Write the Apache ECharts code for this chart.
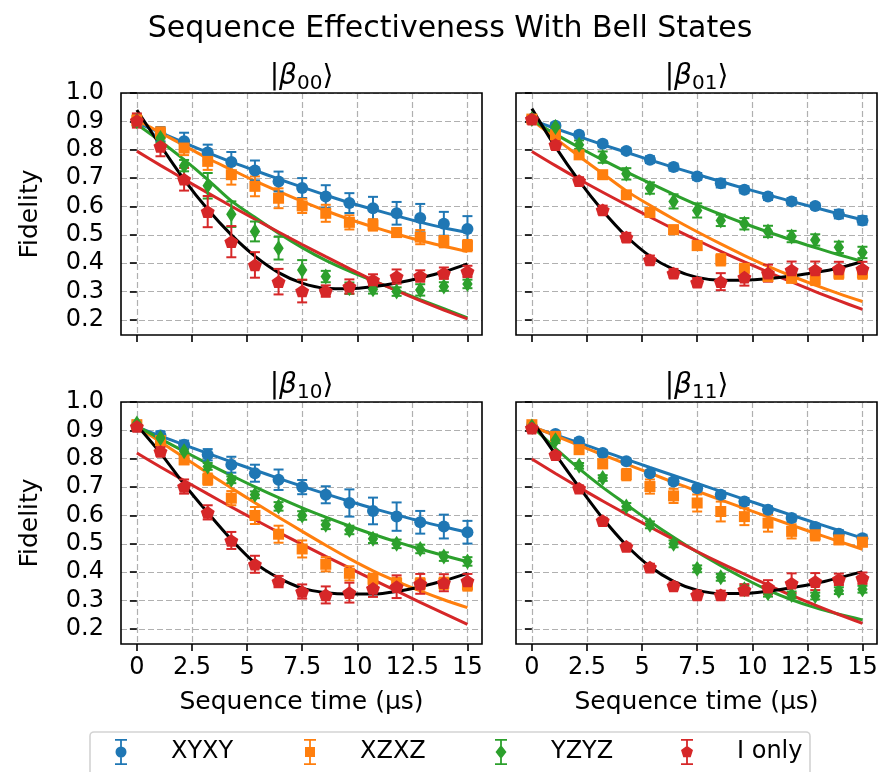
<!DOCTYPE html>
<html>
<head>
<meta charset="utf-8">
<script src="https://cdn.jsdelivr.net/npm/echarts@6/dist/echarts.min.js"></script>
<style>
  html, body { margin: 0; padding: 0; background: #fff; }
  #chart { width: 881px; height: 772px; }
</style>
</head>
<body>
<div id="chart"></div>
<script>
// sequence times (us) and axis ticks
const times = [0, 1.071, 2.143, 3.214, 4.286, 5.357, 6.429, 7.5, 8.571, 9.643, 10.714, 11.786, 12.857, 13.929, 15];
const xTicks = [0, 2.5, 5, 7.5, 10, 12.5, 15];
const yTicks = [0.2, 0.3, 0.4, 0.5, 0.6, 0.7, 0.8, 0.9, 1.0];
const seqNames = ['XYXY', 'XZXZ', 'YZYZ', 'I only'];
const stateLabels = ['00', '01', '10', '11'];

// |β00>
const xyxy00 = [0.903, 0.855, 0.83, 0.79, 0.757, 0.727, 0.688, 0.665, 0.635, 0.612, 0.594, 0.576, 0.559, 0.539, 0.521];
const xyxy00Err = [0.02, 0.025, 0.03, 0.028, 0.035, 0.035, 0.035, 0.035, 0.04, 0.035, 0.04, 0.04, 0.05, 0.042, 0.045];
const xyxy00Fit = [0.895, 0.86, 0.825, 0.79, 0.757, 0.727, 0.697, 0.668, 0.64, 0.613, 0.59, 0.567, 0.545, 0.525, 0.508];
const xzxz00 = [0.903, 0.859, 0.806, 0.759, 0.712, 0.671, 0.629, 0.602, 0.576, 0.544, 0.535, 0.508, 0.492, 0.476, 0.462];
const xzxz00Err = [0.02, 0.02, 0.025, 0.03, 0.035, 0.035, 0.035, 0.025, 0.03, 0.025, 0.02, 0.015, 0.025, 0.02, 0.02];
const xzxz00Fit = [0.905, 0.86, 0.815, 0.77, 0.73, 0.69, 0.653, 0.618, 0.585, 0.555, 0.528, 0.503, 0.48, 0.46, 0.441];
const yzyz00 = [0.9, 0.841, 0.744, 0.673, 0.573, 0.512, 0.453, 0.376, 0.353, 0.312, 0.308, 0.3, 0.306, 0.318, 0.327];
const yzyz00Err = [0.015, 0.015, 0.02, 0.045, 0.045, 0.035, 0.04, 0.035, 0.02, 0.02, 0.015, 0.015, 0.02, 0.015, 0.015];
const yzyz00Fit = [0.89, 0.83, 0.765, 0.695, 0.62, 0.562, 0.506, 0.455, 0.41, 0.372, 0.338, 0.305, 0.272, 0.24, 0.207];
const ionly00 = [0.903, 0.812, 0.696, 0.582, 0.476, 0.394, 0.335, 0.302, 0.302, 0.318, 0.341, 0.353, 0.355, 0.365, 0.371];
const ionly00Err = [0.025, 0.035, 0.04, 0.055, 0.055, 0.045, 0.045, 0.04, 0.02, 0.025, 0.02, 0.025, 0.02, 0.02, 0.02];
const ionly00Fit = [0.795, 0.745, 0.696, 0.648, 0.601, 0.555, 0.51, 0.466, 0.423, 0.381, 0.34, 0.303, 0.268, 0.235, 0.204];
const ionly00Curve = [0.94, 0.815, 0.695, 0.59, 0.5, 0.425, 0.367, 0.33, 0.312, 0.31, 0.317, 0.33, 0.348, 0.37, 0.398];

// |β01>
const xyxy01 = [0.908, 0.885, 0.853, 0.821, 0.796, 0.765, 0.739, 0.706, 0.682, 0.659, 0.635, 0.618, 0.602, 0.573, 0.551];
const xyxy01Err = [0.01, 0.01, 0.01, 0.01, 0.01, 0.012, 0.012, 0.012, 0.015, 0.012, 0.012, 0.012, 0.01, 0.015, 0.015];
const xyxy01Fit = [0.905, 0.875, 0.846, 0.818, 0.791, 0.764, 0.738, 0.713, 0.688, 0.664, 0.641, 0.618, 0.596, 0.574, 0.553];
const xzxz01 = [0.908, 0.853, 0.782, 0.712, 0.641, 0.579, 0.518, 0.462, 0.412, 0.382, 0.353, 0.347, 0.343, 0.365, 0.365];
const xzxz01Err = [0.01, 0.01, 0.012, 0.012, 0.012, 0.012, 0.015, 0.015, 0.02, 0.015, 0.015, 0.015, 0.02, 0.02, 0.02];
const xzxz01Fit = [0.905, 0.84, 0.777, 0.716, 0.655, 0.604, 0.556, 0.511, 0.468, 0.427, 0.389, 0.355, 0.323, 0.293, 0.265];
const yzyz01 = [0.908, 0.88, 0.818, 0.774, 0.715, 0.665, 0.618, 0.586, 0.551, 0.539, 0.512, 0.494, 0.482, 0.456, 0.438];
const yzyz01Err = [0.01, 0.012, 0.015, 0.02, 0.02, 0.02, 0.025, 0.025, 0.02, 0.02, 0.02, 0.02, 0.02, 0.02, 0.02];
const yzyz01Fit = [0.905, 0.855, 0.808, 0.764, 0.722, 0.682, 0.643, 0.606, 0.572, 0.54, 0.51, 0.482, 0.455, 0.43, 0.406];
const ionly01 = [0.908, 0.818, 0.691, 0.588, 0.492, 0.412, 0.365, 0.333, 0.335, 0.351, 0.365, 0.376, 0.376, 0.38, 0.38];
const ionly01Err = [0.01, 0.015, 0.012, 0.015, 0.015, 0.015, 0.015, 0.015, 0.03, 0.03, 0.03, 0.03, 0.03, 0.025, 0.025];
const ionly01Fit = [0.794, 0.744, 0.696, 0.65, 0.606, 0.563, 0.521, 0.481, 0.442, 0.405, 0.369, 0.334, 0.3, 0.268, 0.237];
const ionly01Curve = [0.945, 0.81, 0.69, 0.585, 0.495, 0.425, 0.378, 0.35, 0.34, 0.34, 0.345, 0.355, 0.367, 0.383, 0.406];

// |β10>
const xyxy10 = [0.914, 0.882, 0.849, 0.814, 0.779, 0.749, 0.726, 0.7, 0.673, 0.644, 0.616, 0.596, 0.576, 0.561, 0.541];
const xyxy10Err = [0.01, 0.015, 0.015, 0.02, 0.028, 0.03, 0.036, 0.025, 0.03, 0.048, 0.047, 0.05, 0.04, 0.042, 0.04];
const xyxy10Fit = [0.912, 0.88, 0.849, 0.819, 0.789, 0.76, 0.731, 0.703, 0.676, 0.65, 0.625, 0.602, 0.58, 0.56, 0.541];
const xzxz10 = [0.92, 0.864, 0.796, 0.728, 0.661, 0.6, 0.534, 0.482, 0.428, 0.396, 0.375, 0.361, 0.359, 0.361, 0.355];
const xzxz10Err = [0.01, 0.012, 0.015, 0.02, 0.025, 0.03, 0.03, 0.03, 0.025, 0.025, 0.02, 0.02, 0.02, 0.02, 0.02];
const xzxz10Fit = [0.915, 0.859, 0.804, 0.75, 0.697, 0.645, 0.594, 0.544, 0.495, 0.448, 0.405, 0.368, 0.334, 0.303, 0.275];
const yzyz10 = [0.924, 0.873, 0.826, 0.773, 0.726, 0.673, 0.632, 0.6, 0.567, 0.549, 0.518, 0.5, 0.482, 0.455, 0.438];
const yzyz10Err = [0.01, 0.012, 0.012, 0.012, 0.012, 0.012, 0.015, 0.015, 0.015, 0.015, 0.015, 0.015, 0.015, 0.015, 0.015];
const yzyz10Fit = [0.915, 0.87, 0.826, 0.783, 0.741, 0.701, 0.663, 0.627, 0.594, 0.563, 0.534, 0.507, 0.482, 0.459, 0.437];
const ionly10 = [0.914, 0.826, 0.702, 0.611, 0.512, 0.428, 0.367, 0.332, 0.32, 0.328, 0.343, 0.349, 0.359, 0.363, 0.369];
const ionly10Err = [0.01, 0.015, 0.025, 0.025, 0.03, 0.03, 0.02, 0.025, 0.03, 0.035, 0.03, 0.04, 0.035, 0.03, 0.025];
const ionly10Fit = [0.82, 0.771, 0.723, 0.676, 0.63, 0.585, 0.541, 0.498, 0.456, 0.415, 0.374, 0.334, 0.294, 0.255, 0.216];
const ionly10Curve = [0.918, 0.82, 0.71, 0.61, 0.515, 0.433, 0.38, 0.344, 0.328, 0.323, 0.323, 0.332, 0.349, 0.37, 0.396];

// |β11>
const xyxy11 = [0.914, 0.887, 0.861, 0.82, 0.791, 0.749, 0.72, 0.696, 0.673, 0.649, 0.62, 0.591, 0.559, 0.536, 0.52];
const xyxy11Err = [0.01, 0.01, 0.01, 0.01, 0.01, 0.01, 0.01, 0.01, 0.012, 0.012, 0.012, 0.012, 0.012, 0.012, 0.012];
const xyxy11Fit = [0.912, 0.884, 0.856, 0.827, 0.798, 0.769, 0.741, 0.713, 0.685, 0.657, 0.629, 0.601, 0.574, 0.547, 0.52];
const xzxz11 = [0.92, 0.879, 0.832, 0.782, 0.744, 0.702, 0.669, 0.644, 0.614, 0.596, 0.573, 0.544, 0.532, 0.514, 0.506];
const xzxz11Err = [0.01, 0.01, 0.012, 0.015, 0.02, 0.025, 0.025, 0.03, 0.035, 0.03, 0.03, 0.025, 0.02, 0.015, 0.015];
const xzxz11Fit = [0.915, 0.881, 0.847, 0.814, 0.781, 0.749, 0.717, 0.686, 0.655, 0.625, 0.595, 0.566, 0.537, 0.509, 0.481];
const yzyz11 = [0.914, 0.865, 0.775, 0.732, 0.632, 0.567, 0.5, 0.412, 0.382, 0.34, 0.326, 0.32, 0.316, 0.335, 0.34];
const yzyz11Err = [0.01, 0.01, 0.01, 0.01, 0.012, 0.012, 0.012, 0.012, 0.012, 0.012, 0.012, 0.012, 0.012, 0.012, 0.012];
const yzyz11Fit = [0.915, 0.837, 0.765, 0.699, 0.639, 0.579, 0.523, 0.471, 0.423, 0.378, 0.337, 0.303, 0.275, 0.252, 0.232];
const ionly11 = [0.908, 0.814, 0.696, 0.582, 0.491, 0.418, 0.352, 0.32, 0.32, 0.338, 0.347, 0.361, 0.367, 0.375, 0.379];
const ionly11Err = [0.01, 0.01, 0.01, 0.01, 0.01, 0.012, 0.012, 0.015, 0.015, 0.02, 0.025, 0.035, 0.03, 0.02, 0.02];
const ionly11Fit = [0.799, 0.748, 0.699, 0.651, 0.605, 0.56, 0.516, 0.473, 0.432, 0.393, 0.355, 0.318, 0.284, 0.251, 0.22];
const ionly11Curve = [0.935, 0.815, 0.7, 0.59, 0.495, 0.42, 0.368, 0.337, 0.325, 0.325, 0.333, 0.345, 0.36, 0.38, 0.402];

const panels = [
  { vals: [xyxy00, xzxz00, yzyz00, ionly00], errs: [xyxy00Err, xzxz00Err, yzyz00Err, ionly00Err], fits: [xyxy00Fit, xzxz00Fit, yzyz00Fit, ionly00Fit], curve: ionly00Curve },
  { vals: [xyxy01, xzxz01, yzyz01, ionly01], errs: [xyxy01Err, xzxz01Err, yzyz01Err, ionly01Err], fits: [xyxy01Fit, xzxz01Fit, yzyz01Fit, ionly01Fit], curve: ionly01Curve },
  { vals: [xyxy10, xzxz10, yzyz10, ionly10], errs: [xyxy10Err, xzxz10Err, yzyz10Err, ionly10Err], fits: [xyxy10Fit, xzxz10Fit, yzyz10Fit, ionly10Fit], curve: ionly10Curve },
  { vals: [xyxy11, xzxz11, yzyz11, ionly11], errs: [xyxy11Err, xzxz11Err, yzyz11Err, ionly11Err], fits: [xyxy11Fit, xzxz11Fit, yzyz11Fit, ionly11Fit], curve: ionly11Curve }
];

const colors = ['#1f77b4', '#ff7f0e', '#2ca02c', '#d62728'];
const pentagon = 'path://M6,0 L11.71,4.15 L9.53,10.85 L2.47,10.85 L0.29,4.15 Z';
const diamond = 'path://M6,0 L12,7.5 L6,15 L0,7.5 Z';
const symbols = ['circle', 'rect', diamond, pentagon];
const symbolSizes = [12, 11, [13, 16], [14, 13.3]];
// legend icons: marker with its error bar
const barPart = 'M0,0H12V1.8H0Z M5.1,0H6.9V26H5.1Z M0,24.2H12V26H0Z ';
const legendIcons = [
  'path://' + barPart + 'M0.5,13A5.5,5.5 0 1 1 11.5,13A5.5,5.5 0 1 1 0.5,13Z',
  'path://' + barPart + 'M1,8H11V18H1Z',
  'path://' + barPart + 'M6,6L11.5,13L6,20L0.5,13Z',
  'path://' + barPart + 'M6,6.8L12,11.1L9.7,18.2L2.3,18.2L0,11.1Z'
];
const legendX = [121, 310, 501, 687];

const FONT = 'DejaVu Sans';
const boxes = [
  { left: 121, top: 93 }, { left: 516, top: 93 },
  { left: 121, top: 402 }, { left: 516, top: 402 }
];
const W = 361, H = 242;

function errorBar (params, api) {
  const x = api.value(0), y = api.value(1), e = api.value(2);
  const top = api.coord([x, y + e]);
  const bot = api.coord([x, y - e]);
  const c = api.visual('color');
  const hw = 5;
  const st = { stroke: c, lineWidth: 2 };
  return {
    type: 'group',
    children: [
      { type: 'line', shape: { x1: top[0], y1: top[1], x2: bot[0], y2: bot[1] }, style: st },
      { type: 'line', shape: { x1: top[0] - hw, y1: top[1], x2: top[0] + hw, y2: top[1] }, style: st },
      { type: 'line', shape: { x1: bot[0] - hw, y1: bot[1], x2: bot[0] + hw, y2: bot[1] }, style: st }
    ]
  };
}

const grids = [], xAxes = [], yAxes = [], lineSeries = [], markSeries = [], graphics = [];

boxes.forEach((b, p) => {
  const bottomRow = p >= 2, leftCol = p % 2 === 0;
  grids.push({ left: b.left, top: b.top, width: W, height: H, show: false });
  xAxes.push({
    type: 'value', gridIndex: p, min: -0.72, max: 15.66,
    axisLine: { show: false },
    axisTick: { show: true, length: 7, lineStyle: { color: '#000', width: 1.6 }, customValues: xTicks },
    axisLabel: { show: bottomRow, customValues: xTicks, fontSize: 24, color: '#000', margin: 12, fontFamily: FONT },
    splitLine: { show: true, lineStyle: { color: '#b0b0b0', type: [6, 3], width: 1.2 } },
    name: bottomRow ? 'Sequence time (μs)' : '',
    nameLocation: 'middle', nameGap: 46,
    nameTextStyle: { fontSize: 25, color: '#000', fontFamily: FONT }
  });
  yAxes.push({
    type: 'value', gridIndex: p, min: 0.147, max: 1.0,
    axisLine: { show: false },
    axisTick: { show: true, length: 7, lineStyle: { color: '#000', width: 1.6 }, customValues: yTicks },
    axisLabel: { show: leftCol, customValues: yTicks, fontSize: 24, color: '#000', margin: 17, fontFamily: FONT,
      formatter: v => v.toFixed(1) },
    splitLine: { show: true, lineStyle: { color: '#b0b0b0', type: [6, 3], width: 1.2 } },
    name: leftCol ? 'Fidelity' : '',
    nameLocation: 'middle', nameGap: 78,
    nameTextStyle: { fontSize: 25, color: '#000', fontFamily: FONT }
  });

  const d = panels[p];
  d.fits.forEach((fit, s) => {
    lineSeries.push({
      type: 'line', name: seqNames[s] + ' fit', xAxisIndex: p, yAxisIndex: p,
      data: times.map((t, i) => [t, fit[i]]),
      smooth: 0.3, showSymbol: false, silent: true, z: 2,
      lineStyle: { color: colors[s], width: 3 }
    });
  });
  lineSeries.push({
    type: 'line', name: 'I only curve', xAxisIndex: p, yAxisIndex: p,
    data: times.map((t, i) => [t, d.curve[i]]),
    smooth: 0.3, showSymbol: false, silent: true, z: 2,
    lineStyle: { color: '#000', width: 3 }
  });
  d.vals.forEach((vals, s) => {
    markSeries.push({
      type: 'custom', name: seqNames[s] + ' err', xAxisIndex: p, yAxisIndex: p,
      data: times.map((t, i) => [t, vals[i], d.errs[s][i]]),
      encode: { x: 0, y: 1 }, renderItem: errorBar, z: 3, silent: true,
      itemStyle: { color: colors[s] }
    });
    markSeries.push({
      type: 'scatter', name: seqNames[s], xAxisIndex: p, yAxisIndex: p,
      data: times.map((t, i) => [t, vals[i]]),
      symbol: symbols[s], symbolSize: symbolSizes[s], symbolKeepAspect: true, z: 3,
      itemStyle: { color: colors[s], opacity: 1 }
    });
  });

  // axes frame
  graphics.push({
    type: 'rect', z: 100, silent: true,
    shape: { x: b.left, y: b.top, width: W, height: H },
    style: { fill: null, stroke: '#000', lineWidth: 1.6 }
  });
  // panel title |β_xx>
  graphics.push({
    type: 'text', z: 100, silent: true,
    x: b.left + W / 2, y: b.top - 16,
    style: {
      text: '{a||}{b|β}{c|' + stateLabels[p] + '}{a|⟩}',
      align: 'center', verticalAlign: 'middle',
      rich: {
        a: { fontSize: 28, fontFamily: FONT, fill: '#000', lineHeight: 34, verticalAlign: 'middle' },
        b: { fontSize: 28, fontFamily: FONT, fontStyle: 'italic', fill: '#000', lineHeight: 34, verticalAlign: 'middle' },
        c: { fontSize: 20, fontFamily: FONT, fill: '#000', lineHeight: 20, verticalAlign: 'bottom' }
      }
    }
  });
});

graphics.push({
  type: 'text', silent: true, x: 450, y: 29,
  style: { text: 'Sequence Effectiveness With Bell States', fontSize: 30, fontFamily: FONT, fill: '#000',
    align: 'center', verticalAlign: 'middle' }
});
graphics.push({
  type: 'rect', silent: true, z: -1,
  shape: { x: 90, y: 732, width: 720, height: 60, r: 4 },
  style: { fill: 'rgba(255,255,255,0.8)', stroke: '#d3d3d3', lineWidth: 1.6 }
});

const legends = seqNames.map((n, s) => ({
  data: [{ name: n, icon: legendIcons[s] }],
  left: legendX[s] - 6, top: 739, padding: 0,
  itemWidth: 12, itemHeight: 26, selectedMode: false,
  textStyle: { fontSize: 24, color: '#000', fontFamily: FONT, padding: [0, 0, 0, 39] }
}));

const myChart = echarts.init(document.getElementById('chart'), null, { renderer: 'canvas' });
const option = {
  animation: false,
  backgroundColor: '#fff',
  textStyle: { fontFamily: FONT },
  grid: grids,
  xAxis: xAxes,
  yAxis: yAxes,
  legend: legends,
  graphic: graphics,
  series: lineSeries.concat(markSeries)
};
option && myChart.setOption(option);
</script>
</body>
</html>
